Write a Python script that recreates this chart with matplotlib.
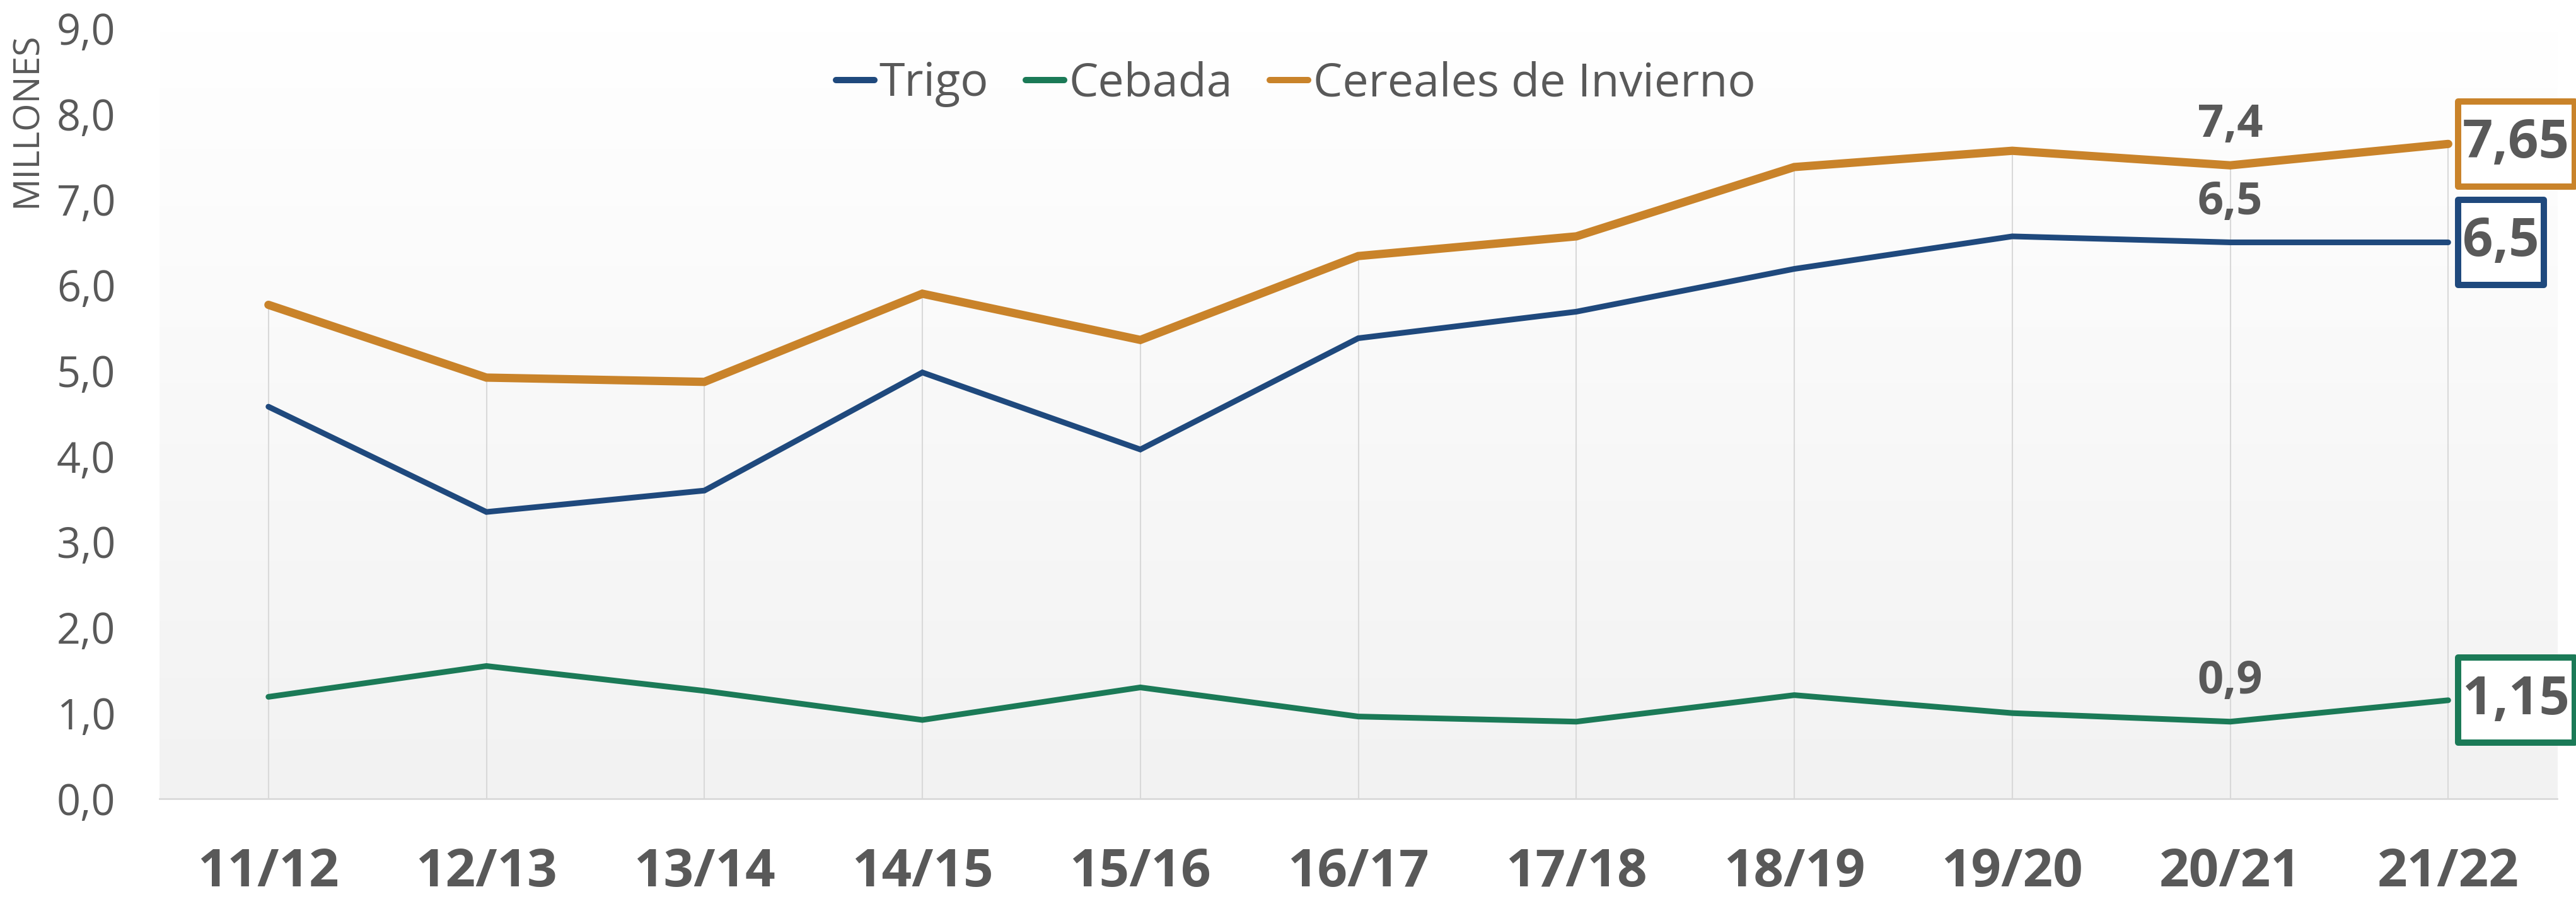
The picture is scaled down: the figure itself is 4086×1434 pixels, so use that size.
import numpy as np
import matplotlib.pyplot as plt
from matplotlib.lines import Line2D
from matplotlib.path import Path
from matplotlib.colors import LinearSegmentedColormap

plt.rcParams['font.family'] = ['Open Sans', 'DejaVu Sans']

# datos (millones de toneladas)
campanas = ['11/12', '12/13', '13/14', '14/15', '15/16', '16/17',
            '17/18', '18/19', '19/20', '20/21', '21/22']
trigo = [4.58, 3.35, 3.60, 4.98, 4.08, 5.38, 5.69, 6.19, 6.57, 6.50, 6.50]
cebada = [1.19, 1.55, 1.26, 0.92, 1.30, 0.96, 0.90, 1.21, 1.00, 0.90, 1.15]
cereales = [5.77, 4.92, 4.87, 5.90, 5.36, 6.34, 6.57, 7.38, 7.57, 7.40, 7.65]

c_trigo = '#1f497d'
c_cebada = '#1b7a57'
c_cereal = '#c9832a'
gris = '#595959'


def caja(x0, y0, width, height, mutation_size):
    # caja con menos margen horizontal que vertical
    px = 0.09 * mutation_size
    py = 0.30 * mutation_size
    verts = [(x0 - px, y0 - py), (x0 + width + px, y0 - py),
             (x0 + width + px, y0 + height + py), (x0 - px, y0 + height + py),
             (x0 - px, y0 - py)]
    return Path(verts, closed=True)


fig = plt.figure(figsize=(40.86, 14.34), dpi=100)
ax = fig.add_axes([0.0619, 0.1165, 0.9308, 0.8521])

x = np.arange(len(campanas))

# fondo degradado
grad = np.linspace(1, 0, 256).reshape(-1, 1)
cm = LinearSegmentedColormap.from_list('fondo', ['#f2f2f2', '#ffffff'])
ax.imshow(grad, extent=[-0.5, 10.5, 0, 9], aspect='auto', cmap=cm,
          origin='upper', zorder=0)

# lineas de unión (drop lines)
tope = np.maximum(np.maximum(trigo, cebada), cereales)
ax.vlines(x, 0, tope, color='#d9d9d9', lw=1.5, zorder=1)

ax.plot(x, cereales, color=c_cereal, lw=9.5, solid_capstyle='round', solid_joinstyle='miter', zorder=3)
ax.plot(x, trigo, color=c_trigo, lw=6.5, solid_capstyle='round', solid_joinstyle='miter', zorder=3)
ax.plot(x, cebada, color=c_cebada, lw=6.5, solid_capstyle='round', solid_joinstyle='miter', zorder=3)

ax.set_xlim(-0.5, 10.5)
ax.set_ylim(0, 9)
ax.set_yticks(np.arange(0, 10, 1))
ax.set_yticklabels([f'{v:.1f}'.replace('.', ',') for v in np.arange(0, 10, 1)])
ax.set_xticks(x)
ax.set_xticklabels(campanas, fontweight='bold')
ax.tick_params(axis='y', length=0, pad=50, labelsize=48, labelcolor=gris)
ax.tick_params(axis='x', length=0, pad=55, labelsize=60, labelcolor=gris)
for s in ['top', 'right', 'left']:
    ax.spines[s].set_visible(False)
ax.spines['bottom'].set_color('#d9d9d9')
ax.spines['bottom'].set_linewidth(2)

fig.text(0.0105, 0.964, 'MILLONES', rotation=90, ha='center', va='top',
         fontsize=41, color=gris)

# etiquetas 20/21
i = 9
for serie in [cereales, trigo, cebada]:
    ax.annotate(f'{serie[i]:g}'.replace('.', ','), (x[i], serie[i]),
                xytext=(0, 46), textcoords='offset points', ha='center', va='center',
                fontsize=52, fontweight='bold', color=gris, zorder=5)

# etiquetas en caja 21/22
i = 10
for serie, col in [(cereales, c_cereal), (trigo, c_trigo), (cebada, c_cebada)]:
    ax.annotate(f'{serie[i]:g}'.replace('.', ','), (x[i], serie[i]),
                xytext=(16.5, 0), textcoords='offset points', ha='left', va='center',
                fontsize=61, fontweight='bold', color=gris, zorder=6,
                annotation_clip=False,
                bbox=dict(boxstyle=caja, fc='white', ec=col, lw=7.2, joinstyle='round'))

handles = [Line2D([], [], color=c, lw=7.2, solid_capstyle='round') for c in [c_trigo, c_cebada, c_cereal]]
fig.legend(handles, ['Trigo', 'Cebada', 'Cereales de Invierno'], loc='center',
           bbox_to_anchor=(0.503, 0.907), ncol=3, frameon=False, fontsize=53,
           labelcolor=gris, handlelength=0.83, handletextpad=0.1, columnspacing=0.8)

fig.savefig('out.png', dpi=100)
